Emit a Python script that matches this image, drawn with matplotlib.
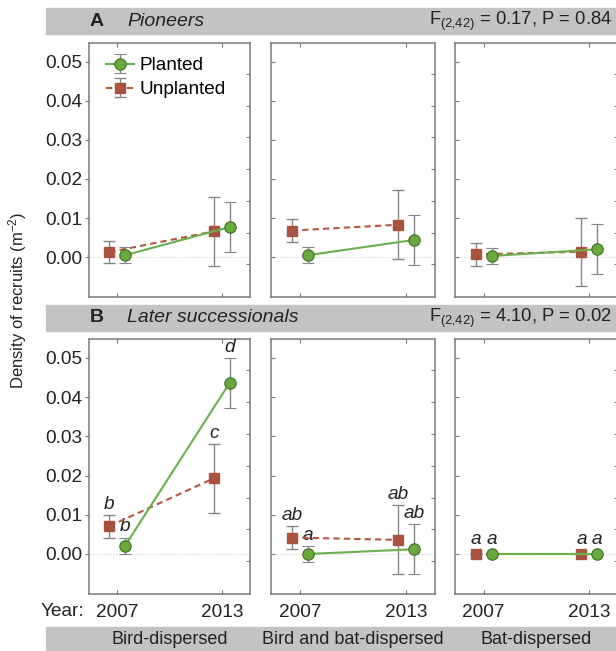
import matplotlib.pyplot as plt
from matplotlib.patches import Rectangle
import numpy as np

plt.rcParams['font.family'] = ['Liberation Sans', 'DejaVu Sans']
plt.rcParams['mathtext.fontset'] = 'custom'
plt.rcParams['mathtext.rm'] = 'Liberation Sans'
plt.rcParams['mathtext.it'] = 'Liberation Sans:italic'

# data
years = ["2007", "2013"]
groups = ["Bird-dispersed", "Bird and bat-dispersed", "Bat-dispersed"]

# pioneers (row A), one [2007, 2013] pair per dispersal group
pio_planted = [[0.0005, 0.0077], [0.0005, 0.0044], [0.0003, 0.0020]]
pio_planted_err = [[0.0020, 0.0063], [0.0020, 0.0064], [0.0020, 0.0064]]
pio_unplanted = [[0.0013, 0.0066], [0.0068, 0.0083], [0.0007, 0.0014]]
pio_unplanted_err = [[0.0028, 0.0088], [0.0029, 0.0088], [0.0029, 0.0087]]

# later successionals (row B)
late_planted = [[0.0021, 0.0436], [0.0000, 0.0012], [0.0, 0.0]]
late_planted_err = [[0.0021, 0.0064], [0.0020, 0.0064], [0.0, 0.0]]
late_unplanted = [[0.0071, 0.0193], [0.0042, 0.0036], [0.0, 0.0]]
late_unplanted_err = [[0.0029, 0.0088], [0.0029, 0.0088], [0.0, 0.0]]
late_planted_letters = [["b", "d"], ["a", "ab"], ["a", "a"]]
late_unplanted_letters = [["b", "c"], ["ab", "ab"], ["a", "a"]]

# low-9 quote used as comma so mathtext does not add a space after it
row_titles = [("A", "Pioneers", "F$_{(2\u201a42)}$ = 0.17, P = 0.84"),
              ("B", "Later successionals", "F$_{(2\u201a42)}$ = 4.10, P = 0.02")]

W, H = 616, 651
fig = plt.figure(figsize=(W / 100, H / 100), dpi=100)

green_face = "#6aaa3c"
green_edge = "#3d6e26"
green_line = "#6ab04c"
brown = "#a9533f"
brown_line = "#b5573f"
err_col = "#858585"
band_col = "#c3c3c4"
spine_col = "#7a7a7a"
txt = "#222222"
fs = 13.7

panel_x = [(89, 250), (271, 435), (455, 618)]
row_y = [(43, 297), (339, 594)]
band_y = [(8, 34), (305, 331)]
x = np.arange(len(years))
off = 0.075
right_ticks = np.arange(-0.00186, 0.052, 0.00812)


def fig_rect(x0, y0, x1, y1):
    return [x0 / W, 1 - y1 / H, (x1 - x0) / W, (y1 - y0) / H]


rows = [
    (pio_planted, pio_planted_err, pio_unplanted, pio_unplanted_err, None, None),
    (late_planted, late_planted_err, late_unplanted, late_unplanted_err,
     late_planted_letters, late_unplanted_letters),
]

for r, (pm, pe, um, ue, pl, ul) in enumerate(rows):
    # grey title band
    by0, by1 = band_y[r]
    fig.patches.append(Rectangle((46 / W, 1 - by1 / H), (W - 46) / W, (by1 - by0) / H,
                                 transform=fig.transFigure, color=band_col, zorder=0))
    yc = 1 - (by0 + by1) / 2 / H
    fig.text(90 / W, yc, row_titles[r][0], fontsize=14, fontweight="bold",
             va="center", color=txt)
    fig.text(127 / W, yc, row_titles[r][1], fontsize=14, fontstyle="italic",
             va="center", color=txt)
    fig.text(612 / W, yc, row_titles[r][2], fontsize=13.3, ha="right",
             va="center", color=txt)

    for g in range(len(groups)):
        x0, x1 = panel_x[g]
        y0, y1 = row_y[r]
        ax = fig.add_axes(fig_rect(x0, y0, x1, y1))
        ax.axhline(0, color="#d4d4d4", ls=":", lw=0.8, zorder=0)
        eu = ax.errorbar(x - off, um[g], yerr=ue[g], color=brown_line, ls=(0, (3, 2)),
                         lw=1.5, marker="s", ms=6.5, mfc=brown, mec=brown,
                         ecolor=err_col, elinewidth=1, capsize=4.3, capthick=1,
                         label="Unplanted", zorder=3)
        ep = ax.errorbar(x + off, pm[g], yerr=pe[g], color=green_line, ls="-",
                         lw=1.5, marker="o", ms=8.2, mfc=green_face, mec=green_edge,
                         mew=0.8, ecolor=err_col, elinewidth=1, capsize=4.3,
                         capthick=1, label="Planted", zorder=4)
        if pl is not None:
            for i in range(len(years)):
                for xx, m, e, lab in ((x[i] - off, um[g][i], ue[g][i], ul[g][i]),
                                      (x[i] + off, pm[g][i], pe[g][i], pl[g][i])):
                    ax.annotate(lab, (xx, m + e), xytext=(0, 1.5 if e > 0 else 4.5),
                                textcoords="offset points", ha="center", va="bottom",
                                fontsize=fs, fontstyle="italic", color=txt)
        ax.set_xlim(-0.27, 1.27)
        ax.set_ylim(-0.0102, 0.0548)
        ax.set_yticks([0, 0.01, 0.02, 0.03, 0.04, 0.05])
        ax.set_xticks(x)
        for s in ax.spines.values():
            s.set_color(spine_col)
            s.set_linewidth(1.1)
        ax.tick_params(axis="x", direction="in", length=3, color=spine_col,
                       top=True, labelsize=fs, pad=7, labelcolor=txt)
        ax.tick_params(axis="y", direction="out" if g == 0 else "in", length=3,
                       color=spine_col, labelsize=fs, pad=2, labelcolor=txt)
        if g == 0:
            ax.set_yticklabels(["0.00", "0.01", "0.02", "0.03", "0.04", "0.05"])
        else:
            ax.set_yticklabels([])
        if r == 1:
            ax.set_xticklabels(years)
        else:
            ax.set_xticklabels([])
        ax2 = ax.twinx()
        ax2.set_ylim(ax.get_ylim())
        ax2.set_yticks(right_ticks)
        ax2.set_yticklabels([])
        ax2.tick_params(axis="y", direction="in", length=3, color=spine_col)
        for s in ax2.spines.values():
            s.set_visible(False)
        if r == 0 and g == 0:
            ax.legend([ep, eu], ["Planted", "Unplanted"], loc="upper left",
                      bbox_to_anchor=(0.08, 0.96), frameon=False, fontsize=fs,
                      handlelength=1.5, handletextpad=0.3, labelspacing=0.35,
                      borderaxespad=0, borderpad=0.2)

# bottom band with group names
fig.patches.append(Rectangle((46 / W, 0), (W - 46) / W, (H - 627) / H,
                             transform=fig.transFigure, color=band_col, zorder=0))
for g, name in enumerate(groups):
    x0, x1 = panel_x[g]
    fig.text((x0 + x1) / 2 / W, 1 - 639 / H, name, fontsize=13, ha="center",
             va="center", color=txt)

fig.text(41 / W, 1 - 611 / H, "Year:", fontsize=fs, va="center", color=txt)
fig.text(18 / W, 1 - 300 / H, r"Density of recruits (m$^{-2}$)", fontsize=12,
         rotation=90, ha="center", va="center", color=txt)

fig.savefig("out.png", dpi=100)
